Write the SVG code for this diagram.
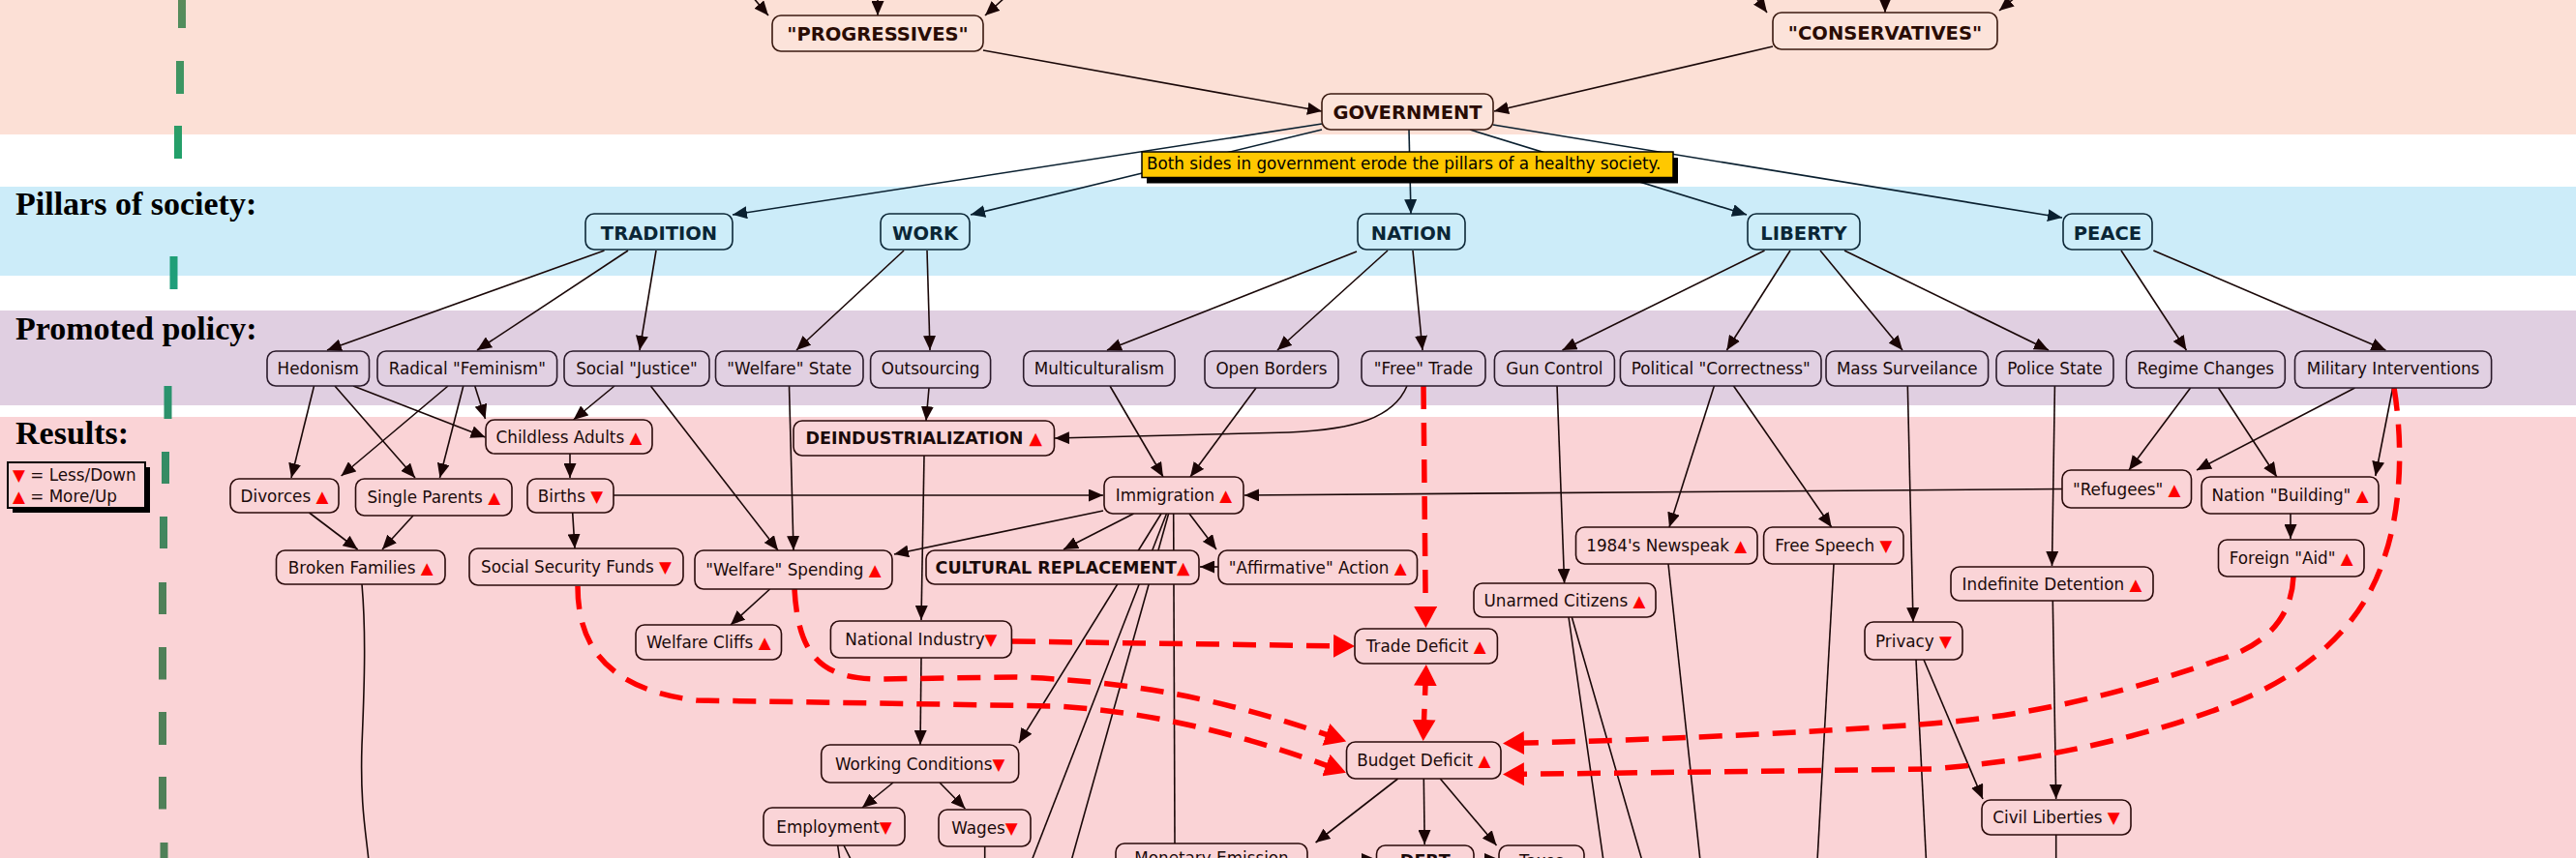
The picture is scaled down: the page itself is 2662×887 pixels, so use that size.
<svg xmlns="http://www.w3.org/2000/svg" width="2662" height="887" viewBox="0 0 2662 887">
<defs>
<style>
.c{fill:none;stroke:#1a0808;stroke-width:1.6;marker-end:url(#ah)}
.cn{fill:none;stroke:#1a0808;stroke-width:1.6}
.cv{fill:none;stroke:#0a2030;stroke-width:1.6;marker-end:url(#av)}
.r{fill:none;stroke:#ff0000;stroke-width:5.5;stroke-dasharray:24 14;marker-end:url(#ar)}
.bs{fill:#fce3da;stroke:#3a1a10;stroke-width:1.6}
.bb{fill:#cdedf9;stroke:#0d2838;stroke-width:1.6}
.bp{fill:#e1d0e2;stroke:#2a1a2a;stroke-width:1.6}
.br{fill:#fad4d7;stroke:#2a0a0a;stroke-width:1.6}
.t{font-family:"DejaVu Sans",Verdana,sans-serif;font-size:16.8px;fill:#1a0a0a;text-anchor:middle}
.tb{font-family:"DejaVu Sans",Verdana,sans-serif;font-size:17.5px;font-weight:bold;fill:#1a0a0a;text-anchor:middle}
.tg{font-family:"DejaVu Sans",Verdana,sans-serif;font-size:19.5px;font-weight:bold;fill:#2a0c04;text-anchor:middle}
.tp{font-family:"DejaVu Sans",Verdana,sans-serif;font-size:19.5px;font-weight:bold;fill:#0a2636;text-anchor:middle}
.sec{font-family:"Liberation Serif","Times New Roman",serif;font-size:34px;font-weight:bold;fill:#000}
.u{fill:#ff0000}
</style>
<marker id="ah" viewBox="0 0 15 13" refX="15" refY="6.5" markerWidth="15" markerHeight="13" orient="auto" markerUnits="userSpaceOnUse"><path d="M0,0 L15,6.5 L0,13 z" fill="#1a0505"/></marker>
<marker id="av" viewBox="0 0 15 13" refX="15" refY="6.5" markerWidth="15" markerHeight="13" orient="auto" markerUnits="userSpaceOnUse"><path d="M0,0 L15,6.5 L0,13 z" fill="#0a2030"/></marker>
<marker id="ar" viewBox="0 0 22 24" refX="14" refY="12" markerWidth="22" markerHeight="24" orient="auto-start-reverse" markerUnits="userSpaceOnUse"><path d="M0,0 L22,12 L0,24 z" fill="#ff0000"/></marker>
<linearGradient id="gg" gradientUnits="userSpaceOnUse" x1="0" y1="0" x2="0" y2="887">
<stop offset="0" stop-color="#5a8a5a"/><stop offset="0.18" stop-color="#22a06a"/><stop offset="0.35" stop-color="#1e9e7c"/><stop offset="0.5" stop-color="#2e8f68"/><stop offset="0.7" stop-color="#4f8058"/><stop offset="1" stop-color="#4f8058"/>
</linearGradient>
</defs>

<g id="bands">
<rect x="0" y="0" width="2662" height="139" fill="#fce0d6"/>
<rect x="0" y="139" width="2662" height="54" fill="#ffffff"/>
<rect x="0" y="193" width="2662" height="92" fill="#ccecf9"/>
<rect x="0" y="285" width="2662" height="36" fill="#ffffff"/>
<rect x="0" y="321" width="2662" height="98" fill="#e0cfe1"/>
<rect x="0" y="419" width="2662" height="12" fill="#ffffff"/>
<rect x="0" y="431" width="2662" height="456" fill="#fad3d6"/>
</g>

<path id="divider" fill="none" stroke="url(#gg)" stroke-width="8" d="M188,-2 L188,29 M186,63 L186,97 M184,130 L184,164 M179.5,265 L179.5,299 M173.5,399 L173.5,433 M171,467 L171,500 M169,534 L169,567 M168,602 L168,635 M168,669 L168,702.5 M168,736 L168,770 M168,803 L168,836.5 M169.5,871 L169.5,905"/>

<g id="sections">
<text class="sec" x="16" y="222">Pillars of society:</text>
<text class="sec" x="16" y="351">Promoted policy:</text>
<text class="sec" x="16" y="459">Results:</text>
</g>

<g id="legend">
<rect x="13" y="483" width="142" height="47" fill="#000"/>
<rect x="8" y="478" width="142" height="47" fill="#fad3d6" stroke="#000" stroke-width="2"/>
<text class="t" style="text-anchor:start" x="13" y="497"><tspan class="u">▼</tspan> = Less/Down</text>
<text class="t" style="text-anchor:start" x="13" y="519"><tspan class="u">▲</tspan> = More/Up</text>
</g>

<g id="connectors">
<path class="c" d="M777,-4 L794,16"/>
<path class="c" d="M907,-4 L907,16"/>
<path class="c" d="M1040,-4 L1018,16"/>
<path class="c" d="M1812,-6 L1826,13"/>
<path class="c" d="M1948,-4 L1948,13"/>
<path class="c" d="M2084,-4 L2066,11"/>
<path class="c" d="M1016,52 L1366,115"/>
<path class="c" d="M1832,48 L1544,115"/>
<path class="cv" d="M1366,128 L757,222"/>
<path class="cv" d="M1366,134 L1003,222"/>
<path class="cv" d="M1456,134 L1458,221"/>
<path class="cv" d="M1519,134 L1805,222"/>
<path class="cv" d="M1543,129 L2131,225"/>
<path class="c" d="M624.5,259 L338,362"/>
<path class="c" d="M649,259 L493,362"/>
<path class="c" d="M678,259 L661,362"/>
<path class="c" d="M934,259 L823,362"/>
<path class="c" d="M958,259 L961,362"/>
<path class="c" d="M1402,260 L1144,362"/>
<path class="c" d="M1434,259 L1320,362"/>
<path class="c" d="M1460,259 L1470,362"/>
<path class="c" d="M1823.5,259 L1614.5,362"/>
<path class="c" d="M1850,259 L1784.4,362"/>
<path class="c" d="M1881,259 L1966,362"/>
<path class="c" d="M1906,259 L2117,362"/>
<path class="c" d="M2192,259 L2259.4,362"/>
<path class="c" d="M2225.4,259 L2465.4,362"/>
<path class="c" d="M324.5,399 L301,494"/>
<path class="c" d="M346,399 L429,494"/>
<path class="c" d="M365,399 L501.5,452"/>
<path class="c" d="M463,399 L352.6,492"/>
<path class="c" d="M478.8,399 L454.5,494"/>
<path class="c" d="M490.7,399 L501.5,433"/>
<path class="c" d="M635,399 L592.6,434"/>
<path class="c" d="M672.4,399 L804,569"/>
<path class="c" d="M815.5,399 L820,569"/>
<path class="c" d="M960,401 L957,435"/>
<path class="c" d="M1454,399 C1440,432 1400,444 1332,447 L1090,453"/>
<path class="c" d="M1147,399 L1202,493"/>
<path class="c" d="M1298,401 L1230,493"/>
<path class="c" d="M634,512 L1140,512"/>
<path class="c" d="M2131,505.5 L1286,512"/>
<path class="c" d="M1140,528 L924,573"/>
<path class="c" d="M1171.5,531 L1099,568"/>
<path class="c" d="M1229,531 L1257,568"/>
<path class="c" d="M1259,586 L1240,586"/>
<path class="c" d="M1200,531 L1053,768"/>
<path class="cn" d="M1205.5,531 L1066,890"/>
<path class="cn" d="M1207.6,531 L1107,890"/>
<path class="cn" d="M1212.7,531 L1214,872"/>
<path class="c" d="M955,471 L952,641"/>
<path class="c" d="M952,680 L951,770"/>
<path class="c" d="M923,809 L891,835"/>
<path class="c" d="M971,809 L997.4,836"/>
<path class="cn" d="M865.7,874 L868,890 M872,874 L880,890"/>
<path class="cn" d="M1017.7,875 L1017.7,890"/>
<path class="c" d="M795.6,609 L755,646"/>
<path class="c" d="M589,469 L589,494"/>
<path class="c" d="M591.7,530 L594,567"/>
<path class="c" d="M319.5,530 L369.6,568"/>
<path class="c" d="M427,533 L395,568"/>
<path class="cn" d="M374,604 C378,650 377,700 374,770 C372,830 378,860 381,890"/>
<path class="c" d="M1609,398 L1616.6,603"/>
<path class="c" d="M1771.7,398 L1725,545"/>
<path class="c" d="M1790.8,398 L1892.7,545"/>
<path class="c" d="M1971.3,398 L1977,643"/>
<path class="c" d="M2123.4,399 L2120.5,585"/>
<path class="c" d="M2263.6,401 L2200,486"/>
<path class="c" d="M2292.5,401 L2352.8,493"/>
<path class="c" d="M2433.5,401 L2270,486"/>
<path class="c" d="M2472.6,401 L2454.8,492"/>
<path class="c" d="M2367,531 L2367,557"/>
<path class="c" d="M2121.3,621 L2124.7,826"/>
<path class="c" d="M1988,682 L2049,826"/>
<path class="cn" d="M1980,682 L1990.5,890"/>
<path class="cn" d="M2124.7,863 L2124.7,890"/>
<path class="cn" d="M1621,638 L1657,890 M1624.3,638 L1697,890"/>
<path class="cn" d="M1724,583 L1757,890"/>
<path class="cn" d="M1895,583 L1878,890"/>
<path class="c" d="M1444.6,805 L1359.6,871"/>
<path class="c" d="M1471.3,805 L1472.2,873"/>
<path class="c" d="M1488.3,805 L1546.5,874"/>
<path class="c" d="M1351,888.5 L1422,888.5"/>
<path class="c" d="M1523,888.5 L1549,888.5"/>
<path class="r" d="M1471,399 L1473.3,641"/>
<path class="r" d="M1046,663 L1392,668"/>
<path class="r" style="marker-start:url(#ar)" d="M1473.5,695 L1471,758"/>
<path class="r" d="M821,609 C825,680 850,702 910,702 L1050,700 C1200,705 1300,735 1383.6,763.9"/>
<path class="r" d="M597,606 C597,660 620,712 720,724 L1090,730 C1200,736 1300,765 1383.5,796"/>
<path class="r" d="M2474,401 C2482,450 2484,520 2463,579 C2440,650 2380,700 2300,730 C2220,760 2120,785 1996,795 L1561,800.5"/>
<path class="r" d="M2370,596 C2368,640 2340,668 2293,682 C2200,715 2100,740 1996,748 C1900,755 1750,764 1561,768.4"/>
</g>

<g id="note">
<rect x="1185" y="163" width="549" height="26.5" fill="#000"/>
<rect x="1180" y="157" width="549" height="26.5" fill="#ffc800" stroke="#000" stroke-width="1.5"/>
<text class="t" style="text-anchor:start;fill:#000" x="1185" y="174.7">Both sides in government erode the pillars of a healthy society.</text>
</g>

<g id="n-progressives"><rect class="bs" x="798" y="16" width="218" height="37" rx="9"/><text class="tg" x="907" y="42">"PROGRESSIVES"</text></g>
<g id="n-conservatives"><rect class="bs" x="1832" y="13" width="232" height="38" rx="9"/><text class="tg" x="1948" y="40.5">"CONSERVATIVES"</text></g>
<g id="n-government"><rect class="bs" x="1366" y="97" width="177" height="37" rx="9"/><text class="tg" x="1454.5" y="123">GOVERNMENT</text></g>

<g id="n-tradition"><rect class="bb" x="605" y="221" width="152" height="37" rx="9"/><text class="tp" x="681" y="248">TRADITION</text></g>
<g id="n-work"><rect class="bb" x="910" y="221" width="92" height="37" rx="9"/><text class="tp" x="956" y="248">WORK</text></g>
<g id="n-nation"><rect class="bb" x="1403" y="221" width="111" height="37" rx="9"/><text class="tp" x="1458.5" y="248">NATION</text></g>
<g id="n-liberty"><rect class="bb" x="1806" y="221" width="116" height="37" rx="9"/><text class="tp" x="1864" y="248">LIBERTY</text></g>
<g id="n-peace"><rect class="bb" x="2132" y="221" width="92" height="37" rx="9"/><text class="tp" x="2178" y="248">PEACE</text></g>

<g id="n-hedonism"><rect class="bp" x="276" y="363" width="105.5" height="36" rx="9"/><text class="t" x="328.75" y="386.5">Hedonism</text></g>
<g id="n-radical-feminism"><rect class="bp" x="390" y="363" width="185.6" height="36" rx="9"/><text class="t" x="482.8" y="386.5">Radical "Feminism"</text></g>
<g id="n-social-justice"><rect class="bp" x="583" y="363" width="150" height="36" rx="9"/><text class="t" x="658" y="386.5">Social "Justice"</text></g>
<g id="n-welfare-state"><rect class="bp" x="739.5" y="363" width="152.5" height="36" rx="9"/><text class="t" x="815.75" y="386.5">"Welfare" State</text></g>
<g id="n-outsourcing"><rect class="bp" x="899.6" y="363" width="124" height="38" rx="9"/><text class="t" x="961.6" y="387">Outsourcing</text></g>
<g id="n-multiculturalism"><rect class="bp" x="1057.7" y="363" width="156.3" height="36" rx="9"/><text class="t" x="1135.85" y="386.5">Multiculturalism</text></g>
<g id="n-open-borders"><rect class="bp" x="1245" y="363" width="138" height="38" rx="9"/><text class="t" x="1314" y="387">Open Borders</text></g>
<g id="n-free-trade"><rect class="bp" x="1407" y="363" width="128" height="36" rx="9"/><text class="t" x="1471" y="386.5">"Free" Trade</text></g>
<g id="n-gun-control"><rect class="bp" x="1544.4" y="363" width="124" height="36" rx="9"/><text class="t" x="1606.4" y="386.5">Gun Control</text></g>
<g id="n-political-correctness"><rect class="bp" x="1674.4" y="363" width="207.6" height="36" rx="9"/><text class="t" x="1778.2" y="386.5">Political "Correctness"</text></g>
<g id="n-mass-surveilance"><rect class="bp" x="1887" y="363" width="167.6" height="36" rx="9"/><text class="t" x="1970.8" y="386.5">Mass Surveilance</text></g>
<g id="n-police-state"><rect class="bp" x="2063" y="363" width="121" height="36" rx="9"/><text class="t" x="2123.5" y="386.5">Police State</text></g>
<g id="n-regime-changes"><rect class="bp" x="2197.4" y="363" width="163.9" height="38" rx="9"/><text class="t" x="2279.35" y="387">Regime Changes</text></g>
<g id="n-military-interventions"><rect class="bp" x="2371.5" y="363" width="203.1" height="38" rx="9"/><text class="t" x="2473.05" y="387">Military Interventions</text></g>

<g id="n-childless-adults"><rect class="br" x="502" y="434" width="172" height="35" rx="9"/><text class="t" x="588" y="457.5">Childless Adults <tspan class="u">▲</tspan></text></g>
<g id="n-divorces"><rect class="br" x="238" y="495" width="112" height="35" rx="9"/><text class="t" x="294" y="518.5">Divorces <tspan class="u">▲</tspan></text></g>
<g id="n-single-parents"><rect class="br" x="367.5" y="495" width="161.5" height="38" rx="9"/><text class="t" x="448.25" y="520">Single Parents <tspan class="u">▲</tspan></text></g>
<g id="n-births"><rect class="br" x="545" y="495" width="89" height="35" rx="9"/><text class="t" x="589.5" y="518.5">Births <tspan class="u">▼</tspan></text></g>
<g id="n-broken-families"><rect class="br" x="285.5" y="569" width="174.5" height="35" rx="9"/><text class="t" x="372.75" y="592.5">Broken Families <tspan class="u">▲</tspan></text></g>
<g id="n-social-security-funds"><rect class="br" x="485" y="567" width="221" height="38" rx="9"/><text class="t" x="595.5" y="592">Social Security Funds <tspan class="u">▼</tspan></text></g>
<g id="n-deindustrialization"><rect class="br" x="820" y="435" width="269.5" height="36" rx="9"/><text class="tb" x="954.75" y="459">DEINDUSTRIALIZATION <tspan class="u">▲</tspan></text></g>
<g id="n-immigration"><rect class="br" x="1141" y="493" width="144" height="38" rx="9"/><text class="t" x="1213" y="518">Immigration <tspan class="u">▲</tspan></text></g>
<g id="n-welfare-spending"><rect class="br" x="718" y="569" width="204" height="40" rx="9"/><text class="t" x="820" y="595">"Welfare" Spending <tspan class="u">▲</tspan></text></g>
<g id="n-cultural-replacement"><rect class="br" x="957" y="569" width="282" height="35" rx="9"/><text class="tb" x="1098" y="592.5">CULTURAL REPLACEMENT<tspan class="u">▲</tspan></text></g>
<g id="n-affirmative-action"><rect class="br" x="1259" y="569" width="205.5" height="35" rx="9"/><text class="t" x="1361.75" y="592.5">"Affirmative" Action <tspan class="u">▲</tspan></text></g>
<g id="n-welfare-cliffs"><rect class="br" x="657" y="646" width="150.5" height="36" rx="9"/><text class="t" x="732.25" y="670">Welfare Cliffs <tspan class="u">▲</tspan></text></g>
<g id="n-national-industry"><rect class="br" x="858.4" y="642" width="187" height="38" rx="9"/><text class="t" x="951.9" y="667">National Industry<tspan class="u">▼</tspan></text></g>
<g id="n-working-conditions"><rect class="br" x="848.7" y="770" width="204" height="39" rx="9"/><text class="t" x="950.65" y="795.5">Working Conditions<tspan class="u">▼</tspan></text></g>
<g id="n-employment"><rect class="br" x="789" y="835" width="146" height="39" rx="9"/><text class="t" x="862" y="860.5">Employment<tspan class="u">▼</tspan></text></g>
<g id="n-wages"><rect class="br" x="970" y="837" width="95" height="38" rx="9"/><text class="t" x="1017.5" y="862">Wages<tspan class="u">▼</tspan></text></g>
<g id="n-trade-deficit"><rect class="br" x="1400" y="650" width="147.4" height="36" rx="9"/><text class="t" x="1473.7" y="674">Trade Deficit <tspan class="u">▲</tspan></text></g>
<g id="n-budget-deficit"><rect class="br" x="1391.5" y="767" width="159.5" height="38" rx="9"/><text class="t" x="1471.25" y="792">Budget Deficit <tspan class="u">▲</tspan></text></g>
<g id="n-unarmed-citizens"><rect class="br" x="1523" y="603" width="188" height="35" rx="9"/><text class="t" x="1617" y="626.5">Unarmed Citizens <tspan class="u">▲</tspan></text></g>
<g id="n-newspeak"><rect class="br" x="1628.5" y="545" width="187.5" height="38" rx="9"/><text class="t" x="1722.25" y="570">1984's Newspeak <tspan class="u">▲</tspan></text></g>
<g id="n-free-speech"><rect class="br" x="1822.6" y="545" width="144.4" height="38" rx="9"/><text class="t" x="1894.8" y="570">Free Speech <tspan class="u">▼</tspan></text></g>
<g id="n-privacy"><rect class="br" x="1927" y="643" width="101" height="39" rx="9"/><text class="t" x="1977.5" y="668.5">Privacy <tspan class="u">▼</tspan></text></g>
<g id="n-indefinite-detention"><rect class="br" x="2016" y="586" width="209" height="35" rx="9"/><text class="t" x="2120.5" y="609.5">Indefinite Detention <tspan class="u">▲</tspan></text></g>
<g id="n-civil-liberties"><rect class="br" x="2048" y="827" width="154" height="36" rx="9"/><text class="t" x="2125" y="851">Civil Liberties <tspan class="u">▼</tspan></text></g>
<g id="n-refugees"><rect class="br" x="2131" y="486" width="133.5" height="39" rx="9"/><text class="t" x="2197.75" y="511.5">"Refugees" <tspan class="u">▲</tspan></text></g>
<g id="n-nation-building"><rect class="br" x="2275" y="493" width="183" height="38" rx="9"/><text class="t" x="2366.5" y="518">Nation "Building" <tspan class="u">▲</tspan></text></g>
<g id="n-foreign-aid"><rect class="br" x="2292.5" y="558" width="150.5" height="38" rx="9"/><text class="t" x="2367.75" y="583">Foreign "Aid" <tspan class="u">▲</tspan></text></g>
<g id="n-monetary-emission"><rect class="br" x="1153" y="872" width="198" height="38" rx="9"/><text class="t" x="1252" y="893">Monetary Emission</text></g>
<g id="n-debt"><rect class="br" x="1422.5" y="874" width="100.5" height="38" rx="9"/><text class="tb" x="1472.75" y="896">DEBT</text></g>
<g id="n-taxes"><rect class="br" x="1549" y="874" width="88" height="38" rx="9"/><text class="t" x="1593" y="896">Taxes</text></g>
</svg>
